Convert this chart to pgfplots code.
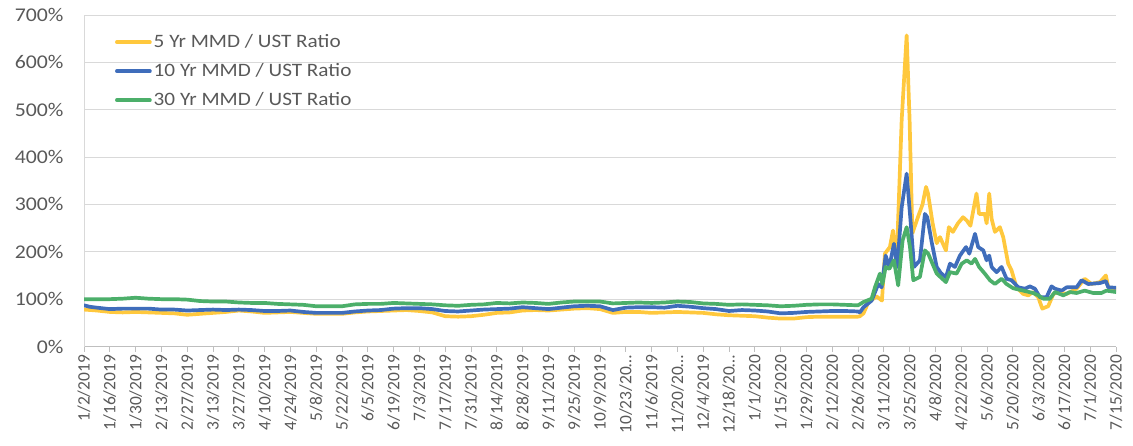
\documentclass[border=0pt]{standalone}
\usepackage{fontspec}
\setmainfont{Carlito}[FakeStretch=1.12]
\newfontfamily\datefont{Carlito}
\usepackage{pgfplots}
\pgfplotsset{compat=1.18}

\definecolor{fiveyr}{HTML}{FFC83D}
\definecolor{tenyr}{HTML}{3F6DBB}
\definecolor{thirtyyr}{HTML}{4CAF6A}
\definecolor{gridgray}{HTML}{D9D9D9}
\definecolor{axisgray}{HTML}{BFBFBF}
\definecolor{labelgray}{HTML}{595959}

\begin{document}
\begin{tikzpicture}
\begin{axis}[
  scale only axis,
  width=1032bp, height=331.5bp,
  xmin=0, xmax=560, ymin=0, ymax=700,
  axis x line*=bottom, axis y line*=left,
  x axis line style={-, draw=axisgray, line width=1bp},
  y axis line style={-, draw=gridgray, line width=1bp},
  ymajorgrids,
  grid style={draw=gridgray, line width=1bp},
  ytick={0,100,200,300,400,500,600,700},
  yticklabels={0\%,100\%,200\%,300\%,400\%,500\%,600\%,700\%},
  ytick style={draw=none},
  yticklabel style={font=\fontsize{19.5}{20}\selectfont, text=labelgray, xshift=-12bp},
  xtick={0,14,...,560},
  xticklabels={1/2/2019,1/16/2019,1/30/2019,2/13/2019,2/27/2019,3/13/2019,3/27/2019,4/10/2019,4/24/2019,5/8/2019,5/22/2019,6/5/2019,6/19/2019,7/3/2019,7/17/2019,7/31/2019,8/14/2019,8/28/2019,9/11/2019,9/25/2019,10/9/2019,10/23/20…,11/6/2019,11/20/20…,12/4/2019,12/18/20…,1/1/2020,1/15/2020,1/29/2020,2/12/2020,2/26/2020,3/11/2020,3/25/2020,4/8/2020,4/22/2020,5/6/2020,5/20/2020,6/3/2020,6/17/2020,7/1/2020,7/15/2020},
  xtick pos=bottom,
  tick align=outside,
  major tick length=5bp,
  xtick style={draw=axisgray, line width=1bp},
  xticklabel style={rotate=90, anchor=east, font=\datefont\fontsize{17.5}{17.5}\selectfont, text=labelgray},
  every axis plot/.append style={line width=3.7bp, line join=round, line cap=round, mark=none},
  legend image code/.code={\draw[#1] (0bp,0bp) -- (33bp,0bp);},
  legend cell align=left,
  legend style={at={(0.027,0.956)}, anchor=north west, draw=none, fill=none,
    font=\fontsize{19}{19}\selectfont, text=labelgray, row sep=8bp,
    nodes={inner sep=2bp, text height=14bp, text depth=3bp}},
]
% 5 year ratio
\addplot[fiveyr] coordinates {
(0,78)(7,76)(14,73)(21,72)(28,73)(35,72)(42,71)(49,70)(56,67)(63,69)(70,71)(77,73)
(84,76)(91,74)(98,71)(105,72)(112,73)(119,71)(126,69)(133,69)(140,69)(147,72)(154,74)
(161,75)(168,76)(175,77)(182,75)(189,72)(196,64)(203,63)(210,64)(217,67)(224,71)(231,72)
(238,76)(245,77)(252,76)(259,78)(266,80)(273,81)(280,79)(287,71)(294,73)(301,73)(308,71)
(315,72)(322,73)(329,72)(336,71)(343,68)(350,66)(357,65)(364,64)(371,61)(378,59)(385,59)
(392,62)(399,63)(406,63)(413,63)(420,63)
(421,64)(423,70)(426,97)(428,100)(430,106)(433,97)(434.6,196)(437.3,210)(439,245)(441,182)
(443.7,478)(446.4,657)(448,478)(449.5,239)(452.5,273)(455,300)(456.9,337)(458,323)
(460.5,260)(462.7,218)(464.5,231)(467.7,203)(469.3,252)(471.5,242)(474.2,260)(477,273)
(479,266)(481,255)(484.3,323)(485.7,280)(488.8,280)(489.8,260)(491.2,323)(492.5,270)
(494.3,242)(497,252)(498.8,231)(501.5,175)(503.3,161)(506,125)(509.7,111)(512.4,108)
(515,115)(517.8,104)(520,80)(523.2,85)(526,111)(528.6,115)(533.2,111)(538.6,122)
(543,143)(546.7,132)(551.3,136)(554.5,150)(555.8,125)(560,122)
};
\addlegendentry{5 Yr MMD / UST Ratio}
% 10 year ratio
\addplot[tenyr] coordinates {
(0,87)(3,84)(7,82)(14,79)(21,80)(28,80)(35,80)(42,78)(49,78)(56,76)(63,77)(70,78)(77,77)
(84,78)(91,77)(98,75)(105,75)(112,76)(119,73)(126,71)(133,71)(140,71)(147,74)(154,76)
(161,77)(168,80)(175,81)(182,81)(189,79)(196,75)(203,74)(210,76)(217,78)(224,79)(231,80)
(238,83)(245,81)(252,79)(259,82)(266,85)(273,86)(280,85)(287,77)(294,82)(301,83)(308,83)
(315,82)(322,86)(329,84)(336,81)(343,79)(350,75)(357,77)(364,76)(371,74)(378,70)(385,71)
(392,73)(399,74)(406,75)(413,75)(420,74)
(421,72)(423,83)(427.4,97)(431,132)(432.8,125)(435,192)(437,168)(439.5,217)(441.3,168)
(443.7,294)(446.4,365)(448.5,266)(450.4,168)(453.6,182)(456.3,280)(457.6,273)(460,220)
(462.7,168)(465,155)(467.7,146)(469.9,175)(472.6,168)(475.3,192)(478.6,210)(480.4,196)
(483.5,238)(485.2,210)(488,203)(489.8,182)(491.2,192)(492.5,168)(495.2,157)(497.9,168)
(500.6,143)(503.3,140)(507,125)(510.6,122)(513.3,127)(516,122)(518.7,104)(522.3,104)
(525,127)(526.9,122)(530.5,118)(533.2,125)(538.6,125)(541.3,140)(544.9,132)(551.3,134)
(554.5,138)(555.8,125)(560,124)
};
\addlegendentry{10 Yr MMD / UST Ratio}
% 30 year ratio
\addplot[thirtyyr] coordinates {
(0,100)(7,100)(14,100)(21,101)(28,103)(35,101)(42,100)(49,100)(56,99)(63,96)(70,95)
(77,95)(84,93)(91,92)(98,92)(105,90)(112,89)(119,88)(126,85)(133,85)(140,85)(147,89)
(154,90)(161,90)(168,92)(175,91)(182,90)(189,89)(196,87)(203,86)(210,88)(217,89)(224,92)
(231,91)(238,93)(245,92)(252,90)(259,93)(266,95)(273,95)(280,95)(287,91)(294,92)(301,93)
(308,92)(315,93)(322,95)(329,94)(336,91)(343,90)(350,88)(357,89)(364,88)(371,87)(378,85)
(385,86)(392,88)(399,89)(406,89)(413,88)(420,87)
(423,94)(427.4,101)(429.2,125)(431.9,154)(433.3,132)(435,168)(437,164)(439.5,182)
(441.8,129)(444.2,224)(446.4,252)(448.2,210)(450,140)(453.6,147)(456.3,203)(458.1,196)
(462.7,154)(467.7,136)(469.9,157)(473.5,154)(476.3,175)(479,182)(481.6,175)(483.5,185)
(485.7,168)(488.8,154)(491.6,140)(494.3,132)(497.9,143)(500.6,132)(504.2,123)(509.7,118)
(515,113)(517.8,108)(520.5,101)(524.1,101)(526.9,115)(531.4,108)(535,115)(538.6,113)
(543,118)(547.6,113)(552.1,113)(554.8,118)(560,115)
};
\addlegendentry{30 Yr MMD / UST Ratio}
\end{axis}
\pgfresetboundingbox
\path[use as bounding box] ([xshift=-84bp,yshift=-98.5bp]current axis.south west)
  rectangle ([xshift=17bp,yshift=15bp]current axis.north east);
\end{tikzpicture}
\end{document}
